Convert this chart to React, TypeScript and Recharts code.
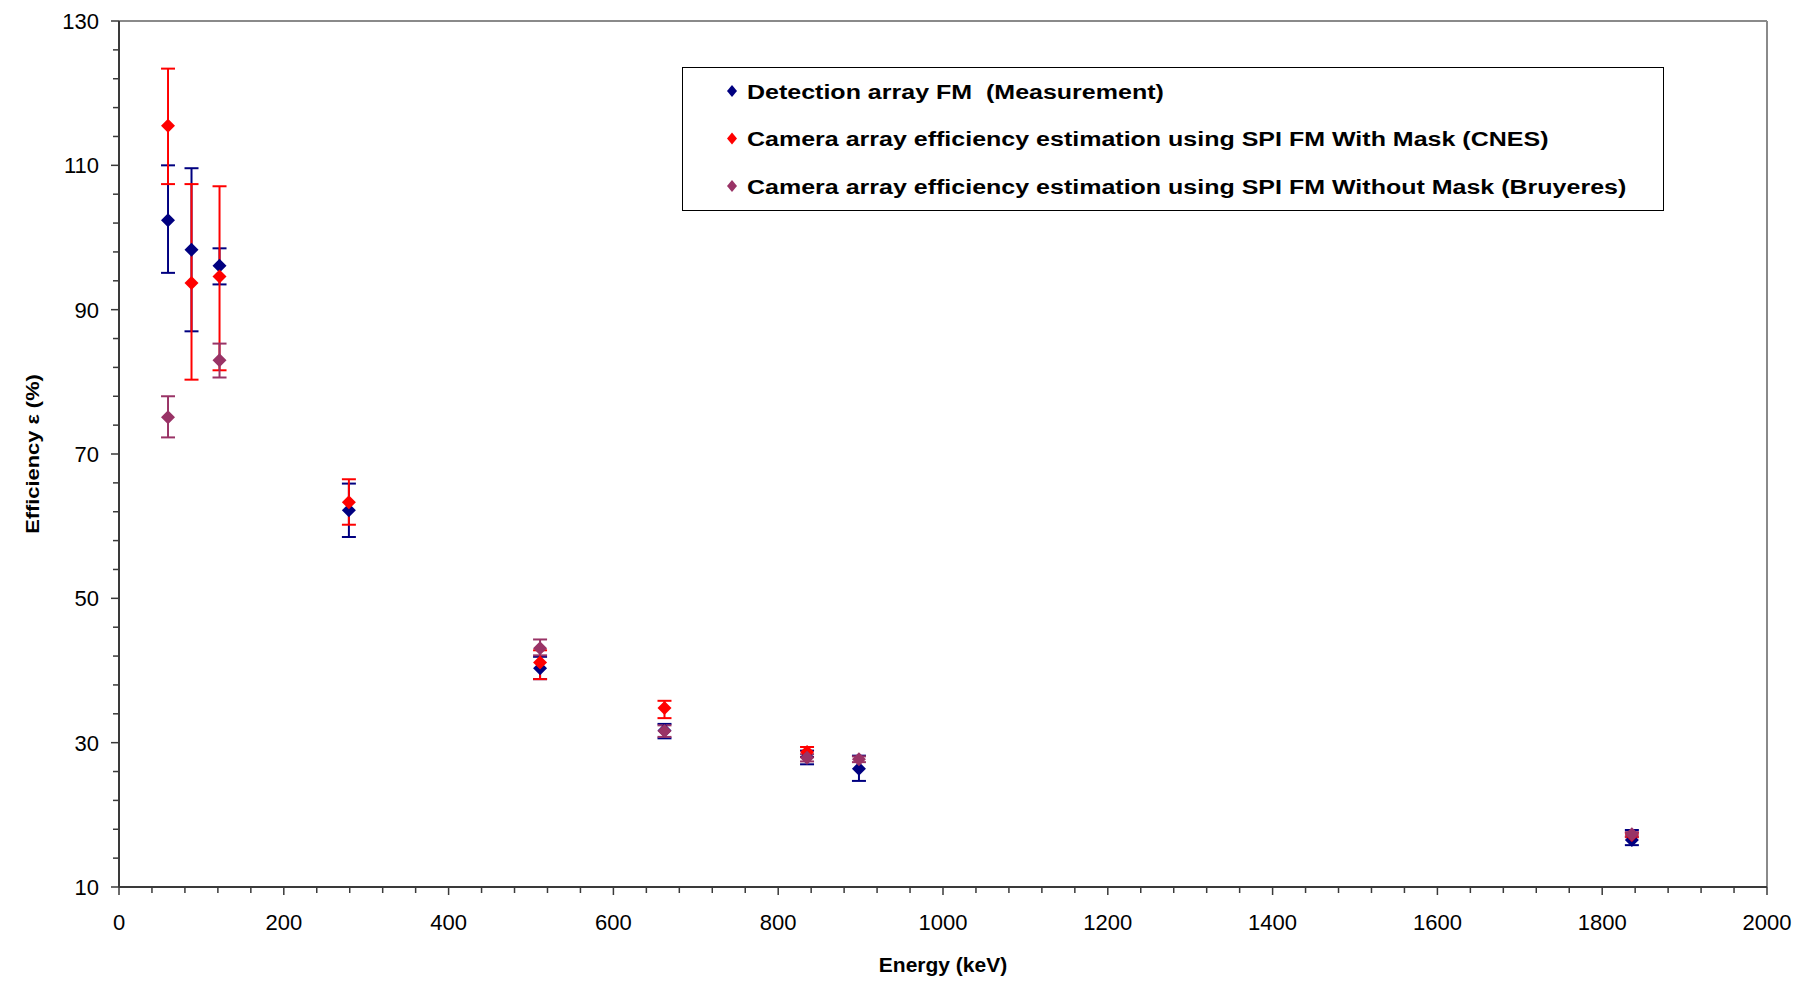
import React from 'react';
import { ScatterChart, Scatter, XAxis, YAxis, ErrorBar, ReferenceLine, Legend } from 'recharts';

// ---- data ----
const seriesNames = [
  'Detection array FM  (Measurement)',
  'Camera array efficiency estimation using SPI FM With Mask (CNES)',
  'Camera array efficiency estimation using SPI FM Without Mask (Bruyeres)',
];
const seriesColors = ['#000080', '#FF0000', '#993366'];

const measEnergy = [59.5, 88, 122, 279, 511, 662, 835, 898, 1836];
const measEff = [102.4, 98.3, 96.1, 62.2, 40.3, 31.7, 28.0, 26.4, 16.5];
const measErrLow = [7.3, 11.3, 2.6, 3.7, 1.5, 1.1, 1.0, 1.7, 0.7];
const measErrHigh = [7.6, 11.3, 2.4, 3.7, 1.6, 0.9, 0.9, 1.8, 1.4];

const cnesEnergy = [59.5, 88, 122, 279, 511, 662, 835, 1836];
const cnesEff = [115.5, 93.7, 94.6, 63.3, 41.1, 34.8, 28.7, 17.2];
const cnesErrLow = [8.1, 13.4, 13.0, 3.1, 2.3, 1.4, 0.7, 0.3];
const cnesErrHigh = [7.9, 13.7, 12.5, 3.2, 1.7, 1.0, 0.7, 0.3];

const bruyEnergy = [59.5, 122, 511, 662, 835, 898, 1836];
const bruyEff = [75.1, 83.0, 43.1, 31.6, 27.9, 27.7, 17.3];
const bruyErrLow = [2.8, 2.4, 1.0, 0.8, 0.5, 0.4, 0.3];
const bruyErrHigh = [2.9, 2.3, 1.2, 0.8, 0.5, 0.4, 0.3];

const xMajorTicks = [0, 200, 400, 600, 800, 1000, 1200, 1400, 1600, 1800, 2000];
const yMajorTicks = [10, 30, 50, 70, 90, 110, 130];
const xTitle = 'Energy (keV)';
const yTitle = 'Efficiency \u03B5 (%)';

// ---- build tables ----
const build = (e: number[], v: number[], lo: number[], hi: number[]) =>
  e.map((x, i) => ({ energy: x, eff: v[i], err: [lo[i], hi[i]] }));
const measData = build(measEnergy, measEff, measErrLow, measErrHigh);
const cnesData = build(cnesEnergy, cnesEff, cnesErrLow, cnesErrHigh);
const bruyData = build(bruyEnergy, bruyEff, bruyErrLow, bruyErrHigh);

const subdivide = (majors: number[], n: number) => {
  const out: number[] = [];
  for (let i = 0; i < majors.length - 1; i++) {
    const step = (majors[i + 1] - majors[i]) / n;
    for (let k = 0; k < n; k++) out.push(majors[i] + k * step);
  }
  out.push(majors[majors.length - 1]);
  return out;
};
const xTicks = subdivide(xMajorTicks, 5);
const yTicks = subdivide(yMajorTicks, 5);

// ---- layout ----
const W = 1799;
const H = 984;
const PLOT_LEFT = 119;
const PLOT_TOP = 21;
const PLOT_RIGHT = 1767;
const PLOT_BOTTOM = 887;
const FONT = '"Liberation Sans", Arial, sans-serif';
const AXIS_COLOR = '#3a3a3a';
const BORDER_COLOR = '#8a8a8a';

const Diamond = (props: any) => {
  const { cx, cy, fill } = props;
  if (cx == null || cy == null) return null;
  const r = 7;
  return (
    <polygon
      points={`${cx},${cy - r} ${cx + r},${cy} ${cx},${cy + r} ${cx - r},${cy}`}
      fill={fill}
    />
  );
};

const XTick = (props: any) => {
  const { x, payload } = props;
  const v = payload.value;
  const major = xMajorTicks.includes(v);
  return (
    <g>
      <line x1={x} x2={x} y1={PLOT_BOTTOM} y2={PLOT_BOTTOM + (major ? 8 : 6)} stroke={AXIS_COLOR} strokeWidth={1.5} />
      {major && (
        <text x={x} y={PLOT_BOTTOM + 43} textAnchor="middle" fontSize={22} fill="#000" fontFamily={FONT}>
          {v}
        </text>
      )}
    </g>
  );
};

const YTick = (props: any) => {
  const { y, payload } = props;
  const v = payload.value;
  const major = yMajorTicks.includes(v);
  return (
    <g>
      <line x1={PLOT_LEFT - (major ? 8 : 6)} x2={PLOT_LEFT} y1={y} y2={y} stroke={AXIS_COLOR} strokeWidth={1.5} />
      {major && (
        <text x={PLOT_LEFT - 20} y={y + 8} textAnchor="end" fontSize={22} fill="#000" fontFamily={FONT}>
          {v}
        </text>
      )}
    </g>
  );
};

const XTitle = (props: any) => {
  const vb = props.viewBox || {};
  return (
    <text x={vb.x + vb.width / 2} y={vb.y + 85} textAnchor="middle" fontSize={21} fontWeight="bold" fill="#000" fontFamily={FONT}>
      {xTitle}
    </text>
  );
};

const YTitle = (props: any) => {
  const vb = props.viewBox || {};
  const cx = vb.x + 39;
  const cy = vb.y + vb.height / 2;
  return (
    <text
      transform={`translate(${cx} ${cy}) rotate(-90) scale(1.15 1)`}
      textAnchor="middle"
      fontSize={19}
      fontWeight="bold"
      fill="#000"
      fontFamily={FONT}
    >
      {yTitle}
    </text>
  );
};

const LEG_W = 982;
const LEG_H = 144;
const renderLegend = () => (
  <svg width={LEG_W} height={LEG_H} style={{ display: 'block' }}>
    <rect x={0.5} y={0.5} width={LEG_W - 1} height={LEG_H - 1} fill="#fff" stroke="#000" strokeWidth={1} />
    {seriesNames.map((name, i) => {
      const cy = 24 + i * 47.5;
      const mx = 50;
      const r = 6;
      return (
        <g key={name}>
          <polygon points={`${mx},${cy - r} ${mx + r - 1},${cy} ${mx},${cy + r} ${mx - r + 1},${cy}`} fill={seriesColors[i]} />
          <text
            transform={`translate(65 ${cy + 7.5}) scale(1.22 1)`}
            fontSize={20.5}
            fontWeight="bold"
            fill="#000"
            fontFamily={FONT}
            style={{ whiteSpace: 'pre' }}
            xmlSpace="preserve"
          >
            {name}
          </text>
        </g>
      );
    })}
  </svg>
);

export default function App() {
  return (
    <div style={{ position: 'absolute', left: 0, top: 0, width: W, height: H, background: '#fff' }}>
      <ScatterChart
        width={W}
        height={H}
        margin={{ top: PLOT_TOP, right: W - PLOT_RIGHT, bottom: 0, left: 0 }}
        style={{ fontFamily: FONT }}
      >
        <XAxis
          type="number"
          dataKey="energy"
          domain={[0, 2000]}
          ticks={xTicks}
          interval={0}
          height={H - PLOT_BOTTOM}
          tickLine={false}
          tick={<XTick />}
          axisLine={{ stroke: AXIS_COLOR, strokeWidth: 2 }}
          allowDataOverflow
          label={<XTitle />}
        />
        <YAxis
          type="number"
          dataKey="eff"
          domain={[10, 130]}
          ticks={yTicks}
          interval={0}
          width={PLOT_LEFT}
          tickLine={false}
          tick={<YTick />}
          axisLine={{ stroke: AXIS_COLOR, strokeWidth: 2 }}
          allowDataOverflow
          label={<YTitle />}
        />
        <ReferenceLine y={130} stroke={BORDER_COLOR} strokeWidth={2} />
        <ReferenceLine x={2000} stroke={BORDER_COLOR} strokeWidth={2} />
        <Legend
          layout="horizontal"
          verticalAlign="middle"
          align="center"
          content={renderLegend}
          wrapperStyle={{ left: 682, top: 67, width: LEG_W, height: LEG_H }}
        />
        <Scatter name={seriesNames[0]} data={measData} fill={seriesColors[0]} shape={<Diamond />} isAnimationActive={false}>
          <ErrorBar dataKey="err" direction="y" width={7} stroke={seriesColors[0]} strokeWidth={2} />
        </Scatter>
        <Scatter name={seriesNames[1]} data={cnesData} fill={seriesColors[1]} shape={<Diamond />} isAnimationActive={false}>
          <ErrorBar dataKey="err" direction="y" width={7} stroke={seriesColors[1]} strokeWidth={2} />
        </Scatter>
        <Scatter name={seriesNames[2]} data={bruyData} fill={seriesColors[2]} shape={<Diamond />} isAnimationActive={false}>
          <ErrorBar dataKey="err" direction="y" width={7} stroke={seriesColors[2]} strokeWidth={2} />
        </Scatter>
      </ScatterChart>
    </div>
  );
}
